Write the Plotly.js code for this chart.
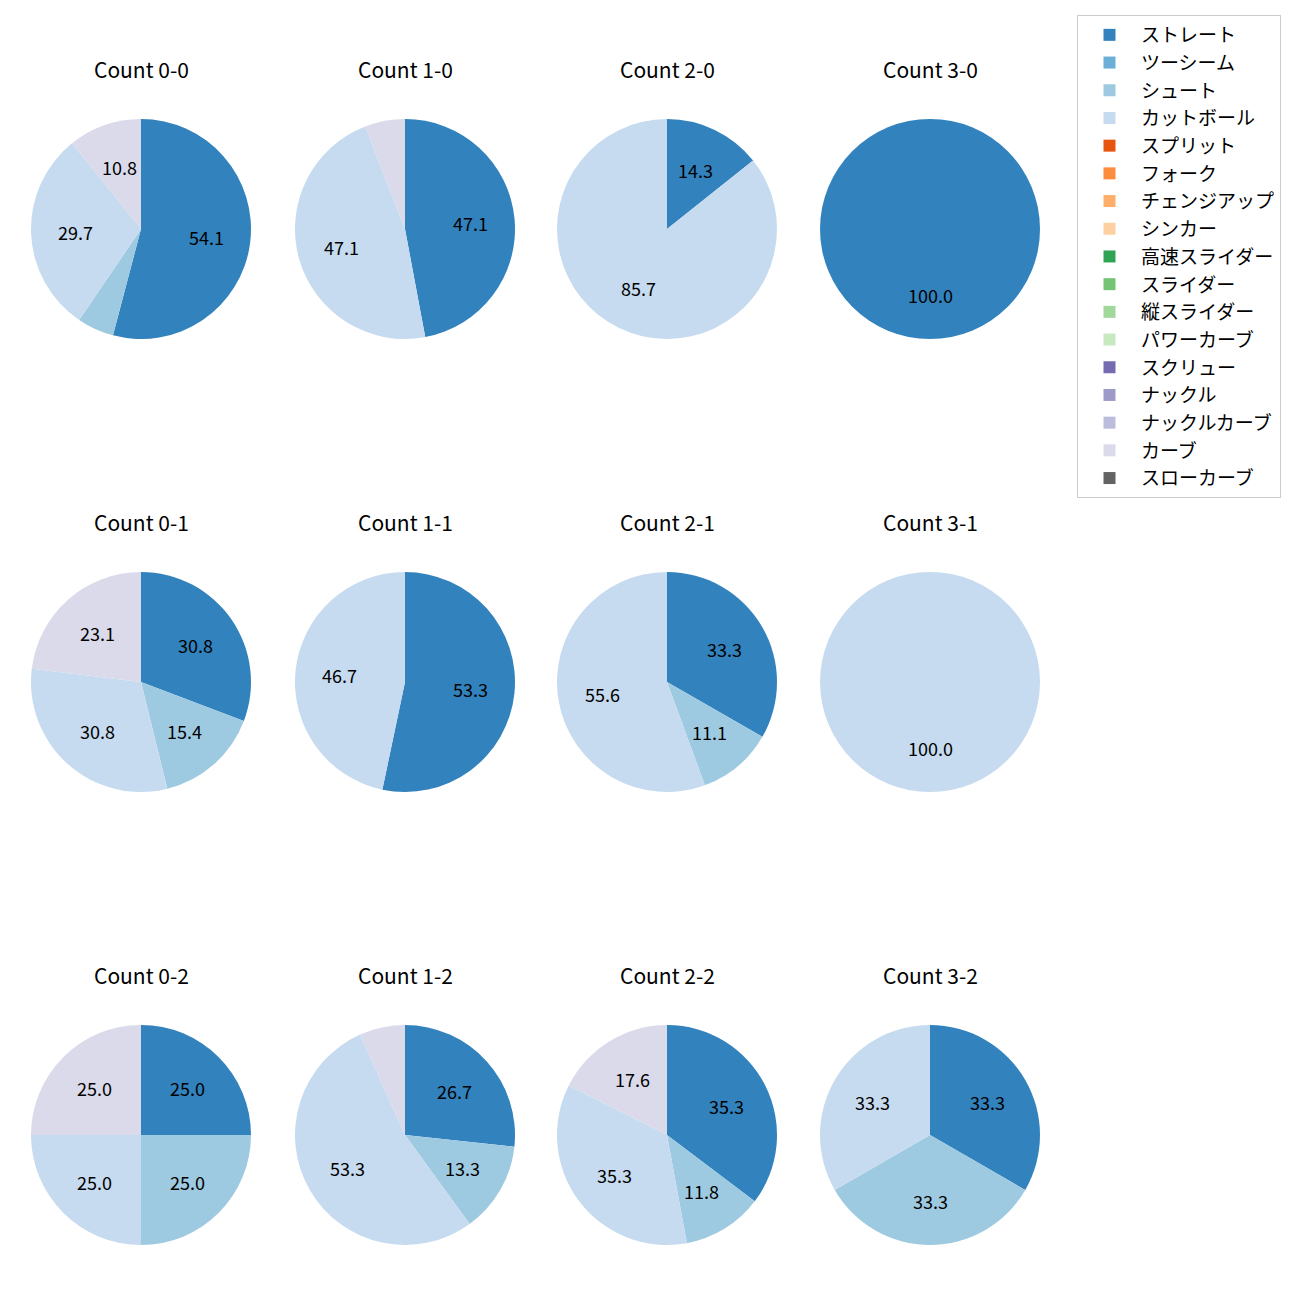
<!DOCTYPE html>
<html>
<head>
<meta charset="utf-8">
<script src="https://cdn.plot.ly/plotly-3.0.1.min.js"></script>
<style>html,body{margin:0;padding:0;background:#fff;}</style>
</head>
<body>
<div id="chart" style="width:1300px;height:1300px;"></div>
<script>
// Pitch types (legend order)
const pitchTypes = ["ストレート","ツーシーム","シュート","カットボール","スプリット","フォーク","チェンジアップ","シンカー","高速スライダー","スライダー","縦スライダー","パワーカーブ","スクリュー","ナックル","ナックルカーブ","カーブ","スローカーブ"];
const pitchColors = ["#3182bd","#6baed6","#9ecae1","#c6dbef","#e6550d","#fd8d3c","#fdae6b","#fdd0a2","#31a354","#74c476","#a1d99b","#c7e9c0","#756bb1","#9e9ac8","#bcbddc","#dadaeb","#636363"];

// Count titles (row = strikes, col = balls)
const countTitles = [
  ["Count 0-0","Count 1-0","Count 2-0","Count 3-0"],
  ["Count 0-1","Count 1-1","Count 2-1","Count 3-1"],
  ["Count 0-2","Count 1-2","Count 2-2","Count 3-2"]
];

// Percentages per pitch type (order of pitchTypes) for each count
const count00 = [54.1,0,5.4,29.7,0,0,0,0,0,0,0,0,0,0,0,10.8,0];
const count10 = [47.1,0,0,47.1,0,0,0,0,0,0,0,0,0,0,0,5.9,0];
const count20 = [14.3,0,0,85.7,0,0,0,0,0,0,0,0,0,0,0,0,0];
const count30 = [100.0,0,0,0,0,0,0,0,0,0,0,0,0,0,0,0,0];
const count01 = [30.8,0,15.4,30.8,0,0,0,0,0,0,0,0,0,0,0,23.1,0];
const count11 = [53.3,0,0,46.7,0,0,0,0,0,0,0,0,0,0,0,0,0];
const count21 = [33.3,0,11.1,55.6,0,0,0,0,0,0,0,0,0,0,0,0,0];
const count31 = [0,0,0,100.0,0,0,0,0,0,0,0,0,0,0,0,0,0];
const count02 = [25.0,0,25.0,25.0,0,0,0,0,0,0,0,0,0,0,0,25.0,0];
const count12 = [26.7,0,13.3,53.3,0,0,0,0,0,0,0,0,0,0,0,6.7,0];
const count22 = [35.3,0,11.8,35.3,0,0,0,0,0,0,0,0,0,0,0,17.6,0];
const count32 = [33.3,0,33.3,33.3,0,0,0,0,0,0,0,0,0,0,0,0,0];

const countValues = [
  [count00,count10,count20,count30],
  [count01,count11,count21,count31],
  [count02,count12,count22,count32]
];

// Layout geometry
const W = 1300, H = 1300;
const colCenters = [141, 405, 667, 930];
const rowCenters = [229, 682, 1135];
const R = 110;
const labelThreshold = 10;
const FONT = "Noto Sans CJK JP, Noto Sans, sans-serif";

const traces = [];
const annotations = [];
for (let r = 0; r < 3; r++) {
  for (let c = 0; c < 4; c++) {
    const vals = countValues[r][c];
    const cx = colCenters[c], cy = rowCenters[r];
    traces.push({
      type: "pie",
      labels: pitchTypes,
      values: vals,
      marker: {colors: pitchColors, line: {width: 0}},
      sort: false,
      direction: "clockwise",
      rotation: 0,
      textinfo: "none",
      hoverinfo: "label+percent",
      showlegend: r === 0 && c === 0,
      domain: {x: [(cx - R) / W, (cx + R) / W], y: [1 - (cy + R) / H, 1 - (cy - R) / H]}
    });
    // title
    annotations.push({
      text: countTitles[r][c], x: cx / W, y: 1 - (cy - 160) / H,
      xref: "paper", yref: "paper", showarrow: false,
      xanchor: "center", yanchor: "middle",
      font: {family: FONT, size: 21, color: "#000"}
    });
    // percentage labels at 0.6 radius
    const total = vals.reduce((a, b) => a + b, 0);
    let cum = 0;
    vals.forEach((v) => {
      if (v <= 0) return;
      const pct = v / total * 100;
      const mid = (cum + v / 2) / total * 2 * Math.PI;
      cum += v;
      if (pct < labelThreshold) return;
      const px = cx + 0.6 * R * Math.sin(mid);
      const py = cy - 0.6 * R * Math.cos(mid);
      annotations.push({
        text: pct.toFixed(1), x: px / W, y: 1 - py / H,
        xref: "paper", yref: "paper", showarrow: false,
        xanchor: "center", yanchor: "middle",
        font: {family: FONT, size: 18, color: "#000"}
      });
    });
  }
}

const layout = {
  width: W, height: H,
  margin: {l: 0, r: 0, t: 0, b: 0},
  paper_bgcolor: "#fff",
  font: {family: FONT, color: "#000"},
  showlegend: true,
  legend: {
    x: 1077 / W, y: 1 - 15 / H, xanchor: "left", yanchor: "top",
    bordercolor: "#cccccc", borderwidth: 1, bgcolor: "#fff",
    font: {family: FONT, size: 19, color: "#000"},
    itemwidth: 53,
    traceorder: "normal"
  },
  annotations: annotations
};

Plotly.newPlot("chart", traces, layout, {displayModeBar: false, staticPlot: true});
</script>
</body>
</html>
